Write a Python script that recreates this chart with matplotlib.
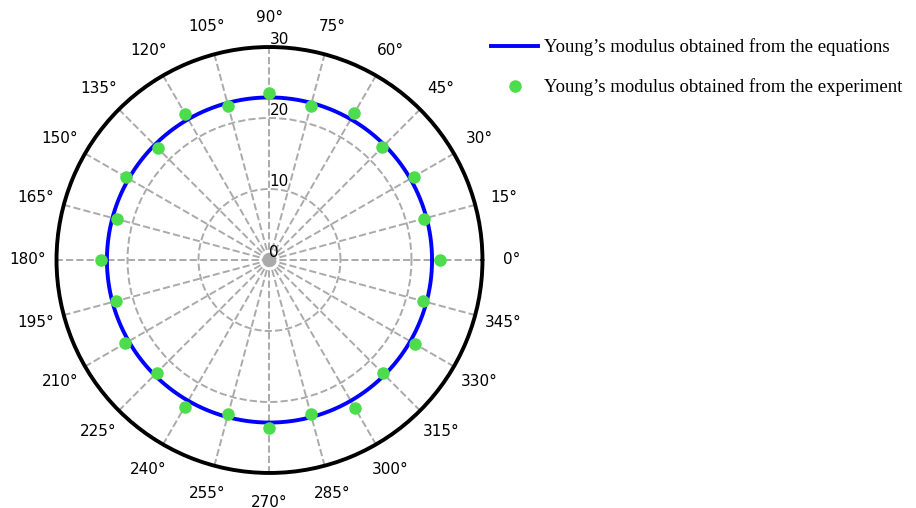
import numpy as np
import matplotlib.pyplot as plt

# Measurement angles (degrees) and Young's modulus values
angles_deg = [0, 15, 30, 45, 60, 75, 90, 105, 120, 135, 150, 165,
              180, 195, 210, 225, 240, 255, 270, 285, 300, 315, 330, 345]
modulus_experiment = [24.0, 22.5, 23.5, 22.5, 23.9, 22.4, 23.5, 22.4,
                      23.8, 22.3, 23.4, 22.3, 23.8, 22.4, 23.5, 22.5,
                      23.9, 22.4, 23.6, 22.4, 24.0, 22.6, 23.7, 22.4]
modulus_equation = 22.9
r_ticks = [0, 10, 20, 30]

fig = plt.figure(figsize=(9.16, 5.08), dpi=100)
ax = fig.add_axes([0.0617, 0.0689, 0.465, 0.8386], projection='polar')

theta_curve = np.linspace(0, 2 * np.pi, 721)
ax.plot(theta_curve, np.full_like(theta_curve, modulus_equation),
        color='#0000FF', lw=2.8, zorder=3,
        label="Young\u2019s modulus obtained from the equations")
ax.plot(np.deg2rad(angles_deg), modulus_experiment, 'o', color='#4CDC4C',
        markersize=8, zorder=4, linestyle='none',
        label="Young\u2019s modulus obtained from the experiment")

ax.set_ylim(0, 30)
ax.set_yticks(r_ticks)
ax.set_yticklabels([str(t) for t in r_ticks], fontsize=11)
ax.set_rlabel_position(90)
ax.set_thetagrids(np.arange(0, 360, 15),
                  labels=[f"{a}\u00b0" for a in range(0, 360, 15)], fontsize=11)
ax.tick_params(axis='x', pad=14, length=0)
ax.tick_params(axis='y', length=0)
ax.grid(True, color='#aaaaaa', linestyle='--', linewidth=1.4)
ax.spines['polar'].set_linewidth(2.8)
ax.spines['polar'].set_color('black')
ax.spines['polar'].set_capstyle('round')

fig.legend(loc='upper left', bbox_to_anchor=(0.518, 0.958), frameon=False,
           prop={'family': 'Liberation Serif', 'size': 13.5},
           handlelength=2.5, handletextpad=0.3, labelspacing=1.2)

fig.savefig('out.png', dpi=100)
